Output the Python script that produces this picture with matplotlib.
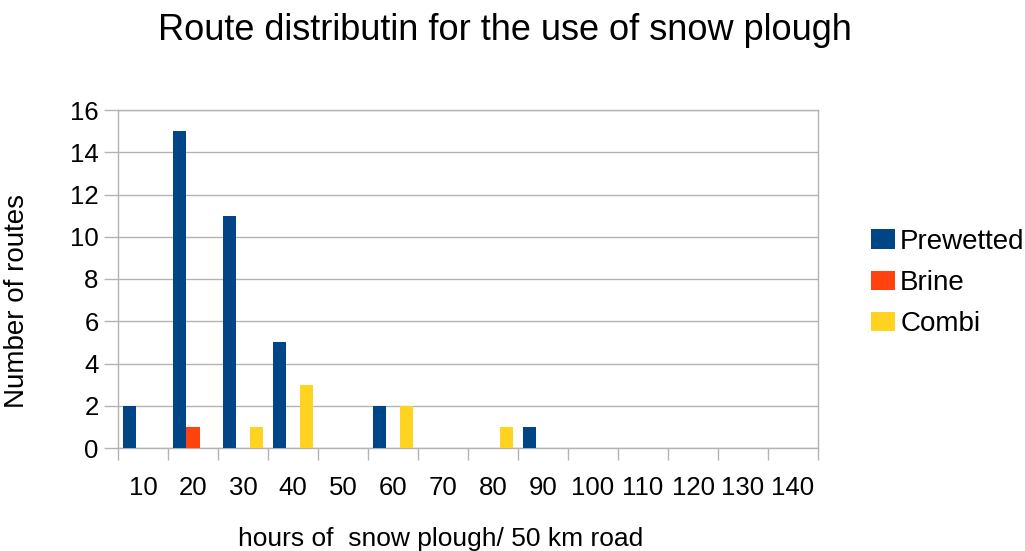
import numpy as np
import matplotlib.pyplot as plt

categories = ['10', '20', '30', '40', '50', '60', '70', '80', '90',
              '100', '110', '120', '130', '140']
prewetted = [2, 15, 11, 5, 0, 2, 0, 0, 1, 0, 0, 0, 0, 0]
brine = [0, 1, 0, 0, 0, 0, 0, 0, 0, 0, 0, 0, 0, 0]
combi = [0, 0, 1, 3, 0, 2, 0, 1, 0, 0, 0, 0, 0, 0]

plt.rcParams['font.family'] = ['Liberation Sans', 'DejaVu Sans']

fig = plt.figure(figsize=(10.25, 5.51), dpi=100)
ax = fig.add_axes([118/1025, 1-448/551, 700/1025, 338/551])

x = np.arange(len(categories))
w = 0.8/3
ax.bar(x - w, prewetted, w, color='#004586', label='Prewetted', zorder=3)
ax.bar(x, brine, w, color='#ff420e', label='Brine', zorder=3)
ax.bar(x + w, combi, w, color='#ffd320', label='Combi', zorder=3)

ax.set_xlim(-0.5, len(categories) - 0.5)
ax.set_ylim(0, 16)
ax.set_yticks(range(0, 17, 2))
ax.set_xticks(x)
ax.set_xticklabels(categories)
ax.set_xticks(np.arange(-0.5, len(categories), 1), minor=True)

ax.grid(axis='y', color='#b3b3b3', linewidth=1, zorder=0)
for s in ax.spines.values():
    s.set_color('#b3b3b3')
    s.set_linewidth(1)

ax.tick_params(axis='x', which='major', length=0, pad=20, labelsize=18.5)
ax.tick_params(axis='x', which='minor', length=8.5, color='#b3b3b3', width=1)
ax.tick_params(axis='y', length=10, color='#b3b3b3', width=1, pad=4, labelsize=18.5)

ax.set_ylabel('Number of routes', fontsize=20)
ax.yaxis.set_label_coords(-0.1257, 0.435)
ax.set_xlabel('hours of  snow plough/ 50 km road', fontsize=19)
ax.xaxis.set_label_coords(0.461, -0.235)

fig.text(505/1025, 1 - 13/551, 'Route distributin for the use of snow plough',
         fontsize=26, ha='center', va='top')

ax.legend(loc='center left', bbox_to_anchor=(871/1025, 1 - 283/551),
          bbox_transform=fig.transFigure, frameon=False, fontsize=20,
          handlelength=0.85, handleheight=0.7, handletextpad=0.2,
          labelspacing=0.55, borderpad=0, borderaxespad=0)

plt.savefig('out.png', dpi=100)
